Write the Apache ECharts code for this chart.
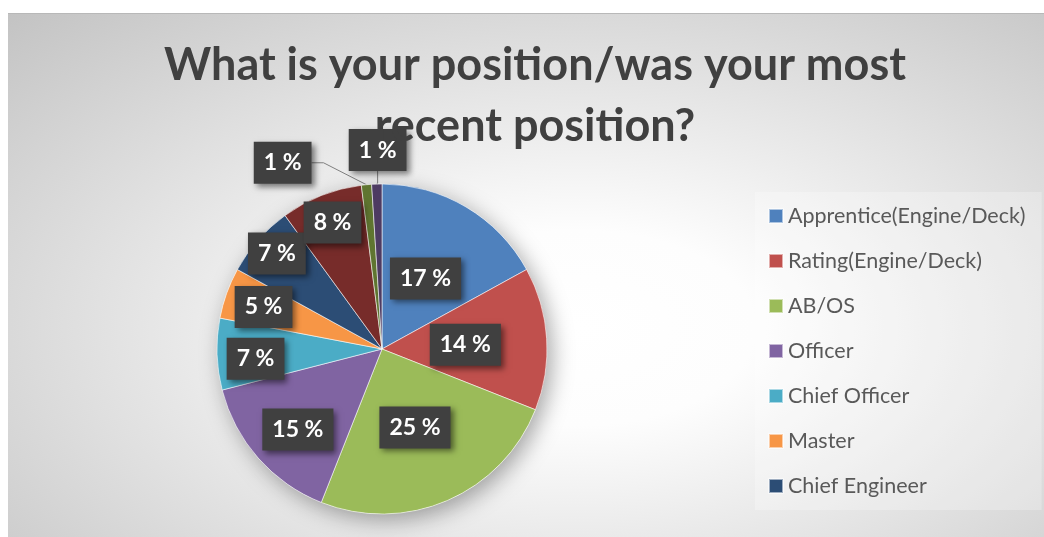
<!DOCTYPE html>
<html><head><meta charset="utf-8">
<script src="https://cdn.jsdelivr.net/npm/echarts@6/dist/echarts.min.js"></script>
<style>
html,body{margin:0;padding:0;background:#fff;}
#frame{position:absolute;left:8px;top:13px;width:1036px;height:524px;box-sizing:border-box;border-top:1px solid #b8b8b8;
background:radial-gradient(ellipse farthest-corner at 55% 60%, #ffffff 0%, #fdfdfd 22%, #c3c3c3 100%);}
#chart{position:absolute;left:0;top:0;width:1044px;height:537px;}
</style></head><body>
<div id="frame"></div><div id="chart"></div>
<script>
const categories = ['Apprentice(Engine/Deck)','Rating(Engine/Deck)','AB/OS','Officer','Chief Officer','Master','Chief Engineer','Engineer Officer','Cadet','Other'];
const legendItems = categories.slice(0, 7);
const shares = [17, 14, 25, 15, 7, 5, 7, 8, 1, 1];
const colors = ['#4F81BD','#C0504D','#9BBB59','#8064A2','#4BACC6','#F79646','#2C4D75','#772C2A','#5F7530','#4D3B62'];
const titleLines = ['What is your position/was your most', 'recent position?'];
// label placement tweaks relative to the library's default label positions
const labelNudge = [[0,3],[-2,1],[-1,0],[-20,24],[-41,7],[-38,-13],[-41,-39],[-18,-47],[-42,-12],[42,-24]];
const outsideLabel = [false,false,false,false,false,false,false,false,true,true];

const chart = echarts.init(document.getElementById('chart'), null, {renderer:'canvas'});
chart.setOption({
  animation: false,
  title: {
    text: titleLines.join('\n'),
    left: 530, top: 30, textAlign: 'center',
    textStyle: {fontFamily: 'Lato', fontWeight: 'bold', fontSize: 45, color: '#404040', lineHeight: 61}
  },
  legend: {
    data: legendItems, orient: 'vertical', left: 755, top: 192,
    padding: [13, 16, 13, 13], itemWidth: 14, itemHeight: 14, itemGap: 23, icon: 'rect',
    backgroundColor: 'rgba(255,255,255,0.25)', selectedMode: false,
    textStyle: {fontFamily: 'Lato', fontSize: 21.5, color: '#595959', lineHeight: 20}
  },
  series: [
    {
      type: 'pie', center: [382, 349], radius: 165, silent: true,
      label: {show: false}, labelLine: {show: false}, emphasis: {disabled: true},
      data: [{value: 100, name: '', itemStyle: {color: '#ffffff', shadowColor: 'rgba(0,0,0,0.35)', shadowBlur: 22, shadowOffsetX: 5, shadowOffsetY: 6}}]
    },
    {
      type: 'pie', center: [382, 349], radius: 165, startAngle: 90, clockwise: true,
      avoidLabelOverlap: false, emphasis: {disabled: true},
      itemStyle: {borderColor: 'rgba(255,255,255,0.55)', borderWidth: 1},
      label: {
        formatter: '{c} %', color: '#ffffff', fontFamily: 'Lato', fontWeight: 'bold', fontSize: 23,
        lineHeight: 24, padding: [9, 10, 9, 10], backgroundColor: '#404040',
        shadowColor: 'rgba(0,0,0,0.5)', shadowBlur: 6, shadowOffsetX: 3, shadowOffsetY: 3,
        distanceToLabelLine: 0
      },
      labelLine: {length: 10, length2: 12, lineStyle: {color: '#7f7f7f', width: 1}},
      labelLayout: function (p) {
        const n = labelNudge[p.dataIndex] || [0,0];
        const r = p.labelRect;
        const cx = r.x + r.width / 2 + n[0];
        const cy = r.y + r.height / 2 + n[1];
        let ax = cx, ay = cy;
        if (p.align === 'right') ax = cx + r.width / 2; else if (p.align === 'left') ax = cx - r.width / 2;
        if (p.verticalAlign === 'top') ay = cy - r.height / 2; else if (p.verticalAlign === 'bottom') ay = cy + r.height / 2;
        return {x: ax, y: ay};
      },
      data: categories.map((name, i) => ({
        name: name, value: shares[i],
        itemStyle: {color: colors[i]},
        label: {position: outsideLabel[i] ? 'outside' : 'inside'},
        labelLine: {show: outsideLabel[i]}
      }))
    }
  ]
});
</script>
</body></html>
